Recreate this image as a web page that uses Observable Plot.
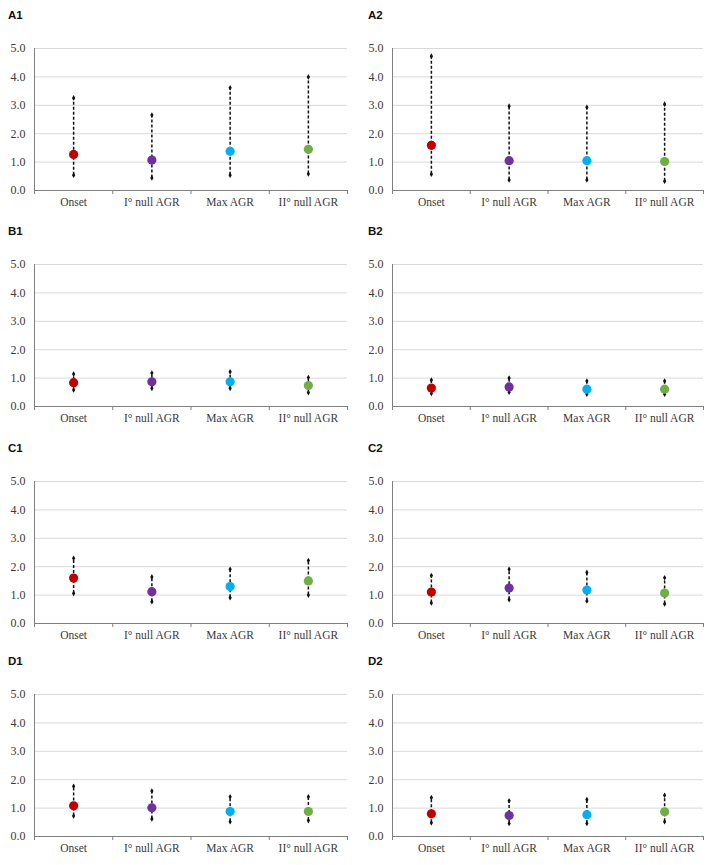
<!DOCTYPE html>
<html>
<head>
<meta charset="utf-8">
<script src="https://cdn.jsdelivr.net/npm/d3@7"></script>
<script src="https://cdn.jsdelivr.net/npm/@observablehq/plot@0.6"></script>
<style>
  html, body { margin: 0; padding: 0; background: #fff; }
  #root { position: relative; width: 708px; height: 865px; background: #fff; overflow: hidden; }
  .lbl { position: absolute; font-family: "Liberation Sans", Arial, sans-serif; font-weight: bold; font-size: 11.5px; color: #111; line-height: 14px; }
  .pn { position: absolute; }
</style>
</head>
<body>
<div id="root"></div>
<script>
const categories = ["Onset", "I° null AGR", "Max AGR", "II° null AGR"];
const colors = ["#c00000", "#7030a0", "#00b0f0", "#70ad47"];
const yTicks = [0, 1, 2, 3, 4, 5];

const A1_point = [1.27, 1.07, 1.38, 1.45];
const A1_low   = [0.54, 0.44, 0.54, 0.58];
const A1_high  = [3.26, 2.66, 3.62, 4.00];

const A2_point = [1.59, 1.05, 1.05, 1.02];
const A2_low   = [0.57, 0.37, 0.37, 0.33];
const A2_high  = [4.73, 2.97, 2.93, 3.04];

const B1_point = [0.84, 0.87, 0.87, 0.74];
const B1_low   = [0.58, 0.64, 0.64, 0.49];
const B1_high  = [1.14, 1.18, 1.22, 1.02];

const B2_point = [0.65, 0.69, 0.61, 0.61];
const B2_low   = [0.46, 0.50, 0.43, 0.43];
const B2_high  = [0.93, 1.00, 0.90, 0.90];

const C1_point = [1.60, 1.12, 1.30, 1.50];
const C1_low   = [1.06, 0.77, 0.91, 1.00];
const C1_high  = [2.30, 1.64, 1.91, 2.22];

const C2_point = [1.11, 1.25, 1.18, 1.07];
const C2_low   = [0.72, 0.84, 0.79, 0.69];
const C2_high  = [1.69, 1.91, 1.80, 1.61];

const D1_point = [1.08, 1.01, 0.88, 0.88];
const D1_low   = [0.72, 0.62, 0.52, 0.56];
const D1_high  = [1.77, 1.60, 1.40, 1.40];

const D2_point = [0.80, 0.74, 0.77, 0.87];
const D2_low   = [0.48, 0.46, 0.46, 0.52];
const D2_high  = [1.37, 1.26, 1.30, 1.45];

const panels = [
  {name: "A1", point: A1_point, low: A1_low, high: A1_high},
  {name: "A2", point: A2_point, low: A2_low, high: A2_high},
  {name: "B1", point: B1_point, low: B1_low, high: B1_high},
  {name: "B2", point: B2_point, low: B2_low, high: B2_high},
  {name: "C1", point: C1_point, low: C1_low, high: C1_high},
  {name: "C2", point: C2_point, low: C2_low, high: C2_high},
  {name: "D1", point: D1_point, low: D1_low, high: D1_high},
  {name: "D2", point: D2_point, low: D2_low, high: D2_high}
];

// layout
const rowTop5 = [48, 264, 481, 694];  // pixel y of the 5.0 gridline per row
const plotH = 142;
const mTop = 10, mBottom = 32;
const colLeft = [0, 354];
const colML = [34, 38];
const colMR = [7, 5];
const labelX = [8, 368];

const root = document.getElementById("root");

panels.forEach((p, i) => {
  const r = Math.floor(i / 2), c = i % 2;
  const rows = categories.map((cat, k) => ({
    cat, pos: k + 0.5, point: p.point[k], low: p.low[k], high: p.high[k], color: colors[k]
  }));

  const lbl = document.createElement("div");
  lbl.className = "lbl";
  lbl.textContent = p.name;
  lbl.style.left = labelX[c] + "px";
  lbl.style.top = (rowTop5[r] - 33 - 7) + "px";
  root.appendChild(lbl);

  const chart = Plot.plot({
    width: 354,
    height: mTop + plotH + mBottom,
    marginTop: mTop,
    marginBottom: mBottom,
    marginLeft: colML[c],
    marginRight: colMR[c],
    style: {fontFamily: "'Liberation Serif', 'Times New Roman', serif", fontSize: "12px", color: "#3a3a3a", background: "transparent", overflow: "visible"},
    x: {type: "linear", domain: [0, 4], axis: null},
    y: {domain: [0, 5], axis: null},
    marks: [
      Plot.gridY([1, 2, 3, 4, 5], {stroke: "#d9d9d9", strokeOpacity: 1, strokeWidth: 1}),
      Plot.axisY(yTicks, {tickSize: 0, tickPadding: 9, tickFormat: d3.format(".1f"), label: null, fontSize: 12}),
      Plot.axisX([0, 1, 2, 3, 4], {tickSize: 4, tickFormat: () => "", label: null, stroke: "#7f7f7f"}),
      Plot.axisX(rows.map(d => d.pos), {tickSize: 0, tickPadding: 7, tickFormat: (d) => categories[Math.floor(d)], label: null, fontSize: 11.5}),
      Plot.ruleY([0], {stroke: "#7f7f7f", strokeWidth: 1}),
      Plot.ruleX([0], {y1: 0, y2: 5, stroke: "#7f7f7f", strokeWidth: 1}),
      Plot.ruleX(rows, {x: "pos", y1: "low", y2: "high", stroke: "#111", strokeWidth: 1.5, strokeDasharray: "3,2"}),
      Plot.dot(rows, {x: "pos", y: "high", symbol: "diamond", r: 1.7, fill: "#111"}),
      Plot.dot(rows, {x: "pos", y: "low", symbol: "diamond", r: 1.7, fill: "#111"}),
      Plot.dot(rows, {x: "pos", y: "point", r: 4.6, fill: "color", stroke: "none"})
    ]
  });
  chart.classList.add("pn");
  chart.style.left = colLeft[c] + "px";
  chart.style.top = (rowTop5[r] - mTop) + "px";
  root.appendChild(chart);
});
</script>
</body>
</html>
